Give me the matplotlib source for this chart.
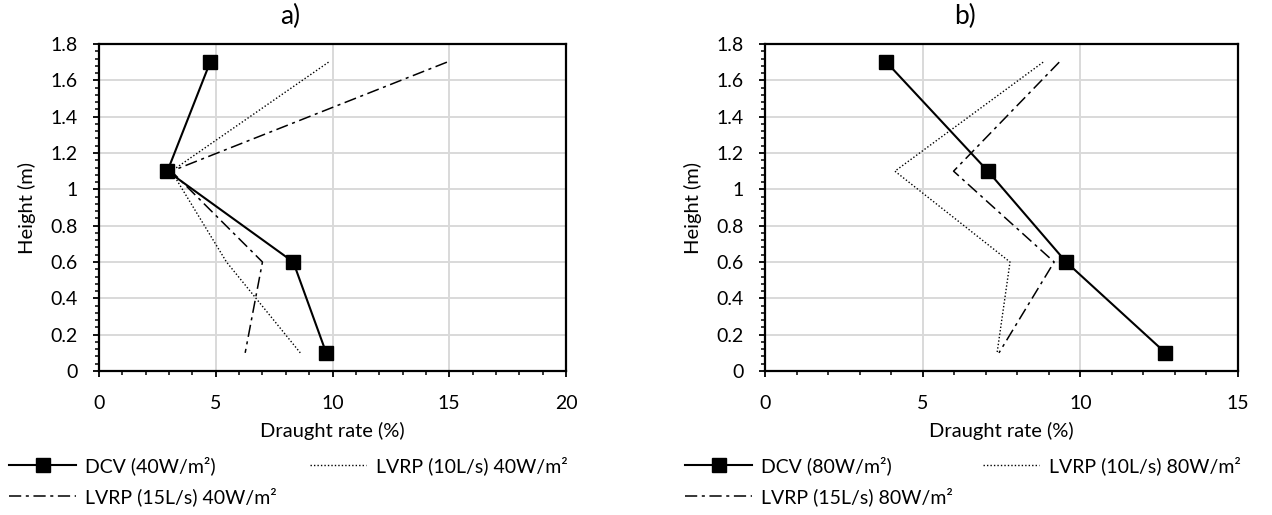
import matplotlib
matplotlib.use("Agg")
import matplotlib.pyplot as plt
from matplotlib.ticker import MultipleLocator, FuncFormatter

plt.rcParams['font.family'] = ['Lato', 'DejaVu Sans']

heights = [1.7, 1.1, 0.6, 0.1]

# Panel a) 40 W/m²
dcv_a = [4.76, 2.93, 8.32, 9.73]
lvrp10_a = [9.83, 3.1, 5.46, 8.62]
lvrp15_a = [14.9, 3.1, 7.0, 6.26]

# Panel b) 80 W/m²
dcv_b = [3.85, 7.07, 9.55, 12.7]
lvrp10_b = [8.82, 4.12, 7.77, 7.36]
lvrp15_b = [9.33, 5.98, 9.17, 7.42]

titles = ["a)", "b)"]
labels_a = ["DCV (40W/m²)", "LVRP (10L/s) 40W/m²", "LVRP (15L/s) 40W/m²"]
labels_b = ["DCV (80W/m²)", "LVRP (10L/s) 80W/m²", "LVRP (15L/s) 80W/m²"]
xmax = [20, 15]

W, H = 1272, 515
fig = plt.figure(figsize=(W / 100, H / 100), dpi=100)

def fx(px):
    return px / W

def fy(py):
    return 1 - py / H

axes_px = [(99, 566, 44, 371), (765, 1238, 44, 371)]
leg_px = [(9, 310), (685, 983)]
title_px = [290, 965]

FS = 14
dashdot = (0, (8, 3, 2, 3))

def fmt(v, pos):
    s = f"{v:.1f}"
    if s.endswith(".0"):
        s = s[:-2]
    return s

for i, (dcv, l10, l15, labels) in enumerate([
        (dcv_a, lvrp10_a, lvrp15_a, labels_a),
        (dcv_b, lvrp10_b, lvrp15_b, labels_b)]):
    l, r, t, b = axes_px[i]
    ax = fig.add_axes([fx(l), fy(b), fx(r - l), (b - t) / H])
    ax.plot(dcv, heights, color='black', lw=1.5, marker='s', markersize=9.5,
            label=labels[0], zorder=3)
    ax.plot(l10, heights, color='black', lw=1.0, linestyle=(0, (1, 1.5)),
            label=labels[1], zorder=2)
    ax.plot(l15, heights, color='black', lw=1.1, linestyle=dashdot,
            label=labels[2], zorder=2)
    ax.set_xlim(0, xmax[i])
    ax.set_ylim(0, 1.8)
    ax.xaxis.set_major_locator(MultipleLocator(5))
    ax.xaxis.set_minor_locator(MultipleLocator(1))
    ax.yaxis.set_major_locator(MultipleLocator(0.2))
    ax.yaxis.set_minor_locator(MultipleLocator(0.04))
    ax.yaxis.set_major_formatter(FuncFormatter(fmt))
    ax.grid(True, which='major', color='#d9d9d9', lw=1.4, zorder=0)
    ax.set_axisbelow(True)
    for s in ax.spines.values():
        s.set_color('black')
        s.set_linewidth(1.6)
    ax.tick_params(axis='both', which='major', length=4.5, width=1.3,
                   direction='out', labelsize=FS, colors='black')
    ax.tick_params(axis='x', which='major', pad=13)
    ax.tick_params(axis='y', which='major', pad=11)
    ax.tick_params(axis='both', which='minor', length=3, width=1.1, direction='out')
    ax.set_xlabel("Draught rate (%)", fontsize=14.5, labelpad=7)
    ax.set_ylabel("Height (m)", fontsize=14.5, labelpad=10)

    fig.text(fx(title_px[i]), fy(16), titles[i], fontsize=19,
             ha='center', va='center')

    h = ax.get_lines()
    x1, x2 = leg_px[i]
    fig.legend([h[0], h[2]], [labels[0], labels[2]], loc='upper left',
               bbox_to_anchor=(fx(x1), fy(456)), frameon=False,
               fontsize=FS, borderpad=0, borderaxespad=0,
               handlelength=3.45, handletextpad=0.46, labelspacing=0.62)
    fig.legend([h[1]], [labels[1]], loc='upper left',
               bbox_to_anchor=(fx(x2), fy(456)), frameon=False,
               fontsize=FS, borderpad=0, borderaxespad=0,
               handlelength=2.9, handletextpad=0.5)

fig.savefig("out.png", dpi=100)
